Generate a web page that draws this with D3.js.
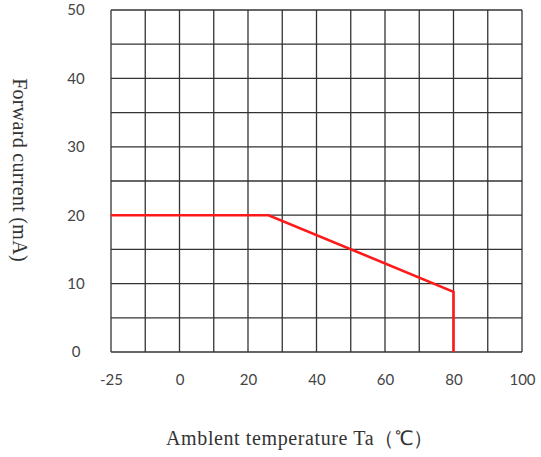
<!DOCTYPE html>
<html><head><meta charset="utf-8">
<script src="https://cdn.jsdelivr.net/npm/d3@7"></script>
<style>body{margin:0;background:#fff}</style>
</head><body>
<svg id="c" width="541" height="457"></svg>
<script>
const temps = [-20, 26, 80, 80];
const currents = [20, 20, 8.8, 0];
const xTickValues = [-20, 0, 20, 40, 60, 80, 100];
const xTickLabels = ["-25", "0", "20", "40", "60", "80", "100"];
const yTickValues = [0, 10, 20, 30, 40, 50];
const xTitle = "Amblent temperature Ta（℃）";
const yTitle = "Forward current (mA)";

const svg = d3.select("#c");
const L = 111, R = 522, T = 10, B = 352;
const x = d3.scaleLinear().domain([-20, 100]).range([L, R]);
const y = d3.scaleLinear().domain([0, 50]).range([B, T]);

const g = svg.append("g");
g.selectAll("line.v").data(d3.range(-20, 101, 10)).join("line")
  .attr("x1", d => x(d)).attr("x2", d => x(d)).attr("y1", T).attr("y2", B)
  .attr("stroke", "#333").attr("stroke-width", 1.3);
g.selectAll("line.h").data(d3.range(0, 51, 5)).join("line")
  .attr("y1", d => y(d)).attr("y2", d => y(d)).attr("x1", L).attr("x2", R)
  .attr("stroke", "#333").attr("stroke-width", 1.3);

const xAxis = d3.axisBottom(x).tickValues(xTickValues)
  .tickFormat((d, i) => xTickLabels[i]).tickSize(0).tickPadding(22);
const xa = svg.append("g").attr("transform", `translate(0,${B})`).call(xAxis);
const yAxis = d3.axisLeft(y).tickValues(yTickValues).tickSize(0).tickPadding(27);
const ya = svg.append("g").attr("transform", `translate(${L},0)`).call(yAxis);
[xa, ya].forEach(a => {
  a.select(".domain").remove();
  a.selectAll("text").attr("font-family", "Lato, 'Open Sans', sans-serif")
    .attr("font-size", 15).attr("fill", "#444");
});
ya.selectAll("text").attr("text-anchor", "middle").attr("x", 76 - L);

const line = d3.line().x(d => x(d[0])).y(d => y(d[1]));
svg.append("path").datum(temps.map((t, i) => [t, currents[i]]))
  .attr("d", line).attr("fill", "none").attr("stroke", "#ff1a1a")
  .attr("stroke-width", 2.6).attr("stroke-linejoin", "miter");

svg.append("text").attr("x", 300).attr("y", 445).attr("text-anchor", "middle")
  .attr("font-family", "'Liberation Serif', serif").attr("font-size", 20)
  .attr("letter-spacing", 0.6)
  .attr("fill", "#333").text(xTitle);
svg.append("text").attr("transform", "translate(13,170) rotate(90)")
  .attr("text-anchor", "middle")
  .attr("font-family", "'Liberation Serif', serif").attr("font-size", 20)
  .attr("letter-spacing", 0.3)
  .attr("fill", "#333").text(yTitle);
</script>
</body></html>
